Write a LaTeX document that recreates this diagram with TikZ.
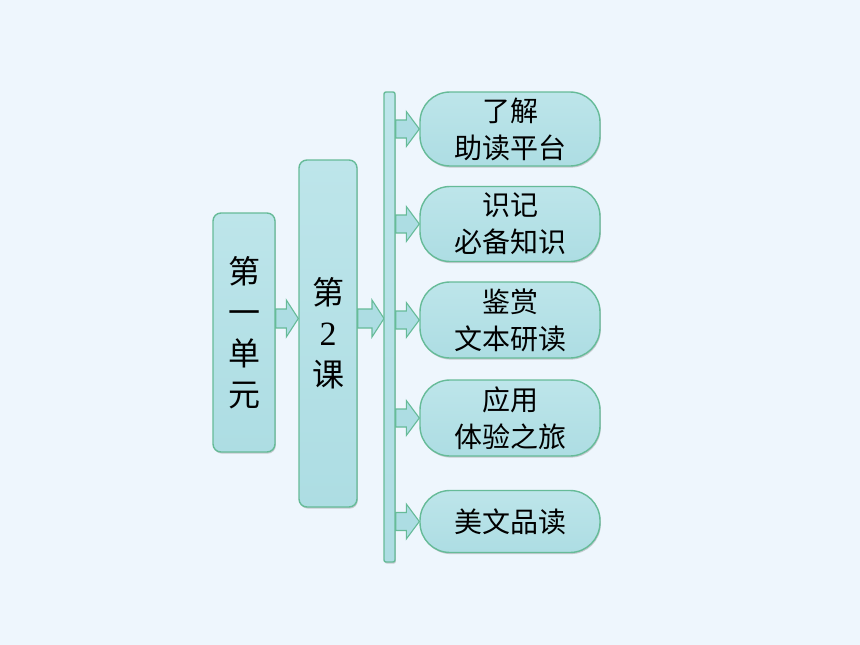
\documentclass[tikz,border=0pt]{standalone}
\usepackage{fontspec}
\setmainfont{Liberation Serif}
\newfontfamily\cjk{Noto Sans CJK SC}
\usetikzlibrary{calc,shadows}
\definecolor{bg}{HTML}{EEF6FD}
\definecolor{boxfill}{HTML}{ADDDE3}
\definecolor{boxtop}{HTML}{BDE5EA}
\definecolor{boxdraw}{HTML}{66BB98}
\tikzset{
  tilebox/.style={draw=boxdraw, line width=1.4pt, top color=boxtop, bottom color=boxfill,
    inner sep=0pt, align=center,
    drop shadow={shadow xshift=0.8pt, shadow yshift=-1.6pt, opacity=0.3, fill=black!60}},
  tallbox/.style={tilebox, rounded corners=8pt, font={\cjk\fontsize{32}{41}\selectfont}},
  pill/.style={tilebox, rounded corners=30pt, minimum width=180pt,
    font={\cjk\fontsize{28}{37}\selectfont}},
  blockarrow/.style={draw=boxdraw, line width=1.1pt, fill=boxfill, line join=miter}
}
\newcommand{\blockarr}[5]{%
  \draw[blockarrow] let \p1=(#1), \p2=(#2) in
    (\x1,\y1-#3) -- (\x2-#5,\y1-#3) -- (\x2-#5,\y1-#4) -- (\x2,\y1)
    -- (\x2-#5,\y1+#4) -- (\x2-#5,\y1+#3) -- (\x1,\y1+#3) -- cycle;}
\begin{document}
\begin{tikzpicture}[x=1pt,y=-1pt]
\fill[bg] (0,0) rectangle (860,645);
\useasboundingbox (0,0) rectangle (860,645);
\coordinate (mid) at (0,318.5);
% arrows (drawn first, under boxes)
\path[use as bounding box] (0,0) rectangle (860,645);
% nodes positions (defined via empty path first for anchors)
\node[tallbox, minimum width=62pt, minimum height=239pt] (b1) at (244,332.5) {第\\一\\单\\元};
\node[tallbox, minimum width=58pt, minimum height=347pt] (b2) at (328,333.5) {第\\{\fontsize{34}{41}\selectfont\rmfamily 2}\\课};
\blockarr{b1.east |- mid}{b2.west |- mid}{9.5pt}{18.5pt}{12pt}
\blockarr{b2.east |- mid}{384,318.5}{9.5pt}{18.5pt}{12pt}
\node[tilebox, rounded corners=2pt, minimum width=11pt, minimum height=470pt] (bar) at (389.5,327) {};
\node[pill, minimum height=74pt] (s1) at (510,129) {了解\\助读平台};
\node[pill, minimum height=75pt] (s2) at (510,224) {识记\\必备知识};
\node[pill, minimum height=76pt] (s3) at (510,320) {鉴赏\\文本研读};
\node[pill, minimum height=76pt] (s4) at (510,418) {应用\\体验之旅};
\node[pill, minimum height=62pt] (s5) at (510,521.5) {美文品读};
\foreach \s in {s1,s2,s3,s4,s5}{
  \blockarr{bar.east |- \s.west}{\s.west}{9pt}{17.5pt}{13pt}
}
\end{tikzpicture}
\end{document}
